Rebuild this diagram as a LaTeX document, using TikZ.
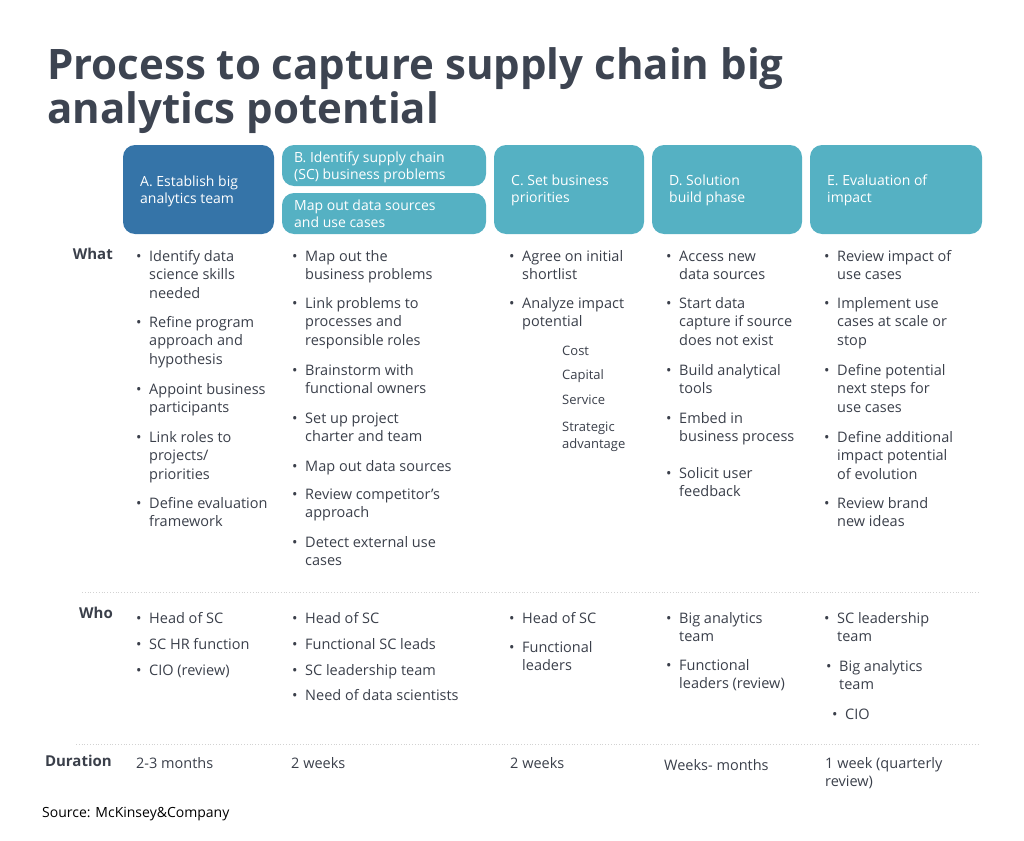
\documentclass[tikz,border=0pt]{standalone}
\usepackage{fontspec}
\setmainfont{Open Sans}
\definecolor{txt}{HTML}{3A3F4A}
\definecolor{ttl}{HTML}{3D4451}
\definecolor{dblue}{HTML}{3574A8}
\definecolor{teal}{HTML}{55B1C3}
\newcommand\bt[3]{\node[body] at (#1,#2-12) {\rule{0pt}{12pt}#3};}
\newcommand\bb[3]{\node[body] at (#1-13,#2-12) {\rule{0pt}{12pt}•}; \node[body] at (#1,#2-12) {\rule{0pt}{12pt}#3};}
\begin{document}
\begin{tikzpicture}[x=1pt,y=-1pt,
  body/.style={anchor=north west,inner sep=0pt,align=left,text=txt,font=\fontsize{14.5}{18.6}\selectfont},
  small/.style={anchor=north west,inner sep=0pt,align=left,text=txt,font=\fontsize{13}{17}\selectfont},
  lab/.style={anchor=base east,inner sep=0pt,text=txt,font=\fontsize{15}{18}\selectfont\bfseries},
  hdr/.style={anchor=north west,inner sep=0pt,align=left,text=white,font=\fontsize{14}{17.5}\selectfont},
  box/.style={rounded corners=12pt},
  sep/.style={draw=gray!35,dotted,line width=0.8pt}]
\useasboundingbox (0,0) rectangle (1024,840);
\node[anchor=base west,inner sep=0pt,text=ttl,font=\fontsize{42}{45}\selectfont\bfseries] (title) at (47,80) {Process to capture supply chain big};
\node[anchor=base west,inner sep=0pt,text=ttl,font=\fontsize{42}{45}\selectfont\bfseries] (title2) at (47,124) {analytics potential};
% header boxes
\fill[dblue,box] (123,145) rectangle (274,234);
\fill[teal,box] (282,145) rectangle (486,186);
\fill[teal,box] (282,193) rectangle (486,234);
\fill[teal,box] (494,145) rectangle (644,234);
\fill[teal,box] (652,145) rectangle (802,234);
\fill[teal,box] (810,145) rectangle (982,234);
\node[hdr] at (140,175) {\rule{0pt}{11pt}A. Establish big\\analytics team};
\node[hdr] at (294,151) {\rule{0pt}{11pt}B. Identify supply chain\\(SC) business problems};
\node[hdr] at (294,199) {\rule{0pt}{11pt}Map out data sources\\and use cases};
\node[hdr] at (511,174) {\rule{0pt}{11pt}C. Set business\\priorities};
\node[hdr] at (669,174) {\rule{0pt}{11pt}D. Solution\\build phase};
\node[hdr] at (827,174) {\rule{0pt}{11pt}E. Evaluation of\\impact};
% labels
\node[lab] at (113,259) {What};
\node[lab] at (113,618) {Who};
\node[lab] at (112,766) {Duration};
% separators
\draw[sep] (82,592) -- (980,592);
\draw[sep] (76,744) -- (980,744);
% What A
\bb{149}{261}{Identify data\\science skills\\needed}
\bb{149}{327}{Refine program\\approach and\\hypothesis}
\bb{149}{394}{Appoint business\\participants}
\bb{149}{442}{Link roles to\\projects/\\priorities}
\bb{149}{508}{Define evaluation\\framework}
% What B
\bb{305}{261}{Map out the\\business problems}
\bb{305}{308}{Link problems to\\processes and\\responsible roles}
\bb{305}{375}{Brainstorm with\\functional owners}
\bb{305}{423}{Set up  project\\charter and team}
\bb{305}{471}{Map out data sources}
\bb{305}{499}{Review competitor’s\\approach}
\bb{305}{547}{Detect external use\\cases}
% What C
\bb{522}{261}{Agree on initial\\shortlist}
\bb{522}{308}{Analyze impact\\potential}
\node[small] at (562,344) {\rule{0pt}{11pt}Cost};
\node[small] at (562,368) {\rule{0pt}{11pt}Capital};
\node[small] at (562,393) {\rule{0pt}{11pt}Service};
\node[small] at (562,420) {\rule{0pt}{11pt}Strategic\\advantage};
% What D
\bb{679}{261}{Access new\\data sources}
\bb{679}{308}{Start data\\capture if source\\does not exist}
\bb{679}{375}{Build analytical\\tools}
\bb{679}{423}{Embed in\\business process}
\bb{679}{478}{Solicit user\\feedback}
% What E
\bb{837}{261}{Review impact of\\use cases}
\bb{837}{308}{Implement use\\cases at scale or\\stop}
\bb{837}{375}{Define potential\\next steps for\\use cases}
\bb{837}{442}{Define additional\\impact potential\\of evolution}
\bb{837}{508}{Review brand\\new ideas}
% Who
\bb{149}{623}{Head of SC}
\bb{149}{649}{SC HR function}
\bb{149}{675}{CIO (review)}
\bb{305}{623}{Head of SC}
\bb{305}{649}{Functional SC leads}
\bb{305}{675}{SC leadership team}
\bb{305}{700}{Need of data scientists}
\bb{522}{623}{Head of SC}
\bb{522}{652}{Functional\\leaders}
\bb{679}{623}{Big analytics\\team}
\bb{679}{670}{Functional\\leaders (review)}
\bb{837}{623}{SC leadership\\team}
\bb{839}{671}{Big analytics\\team}
\bb{845}{719}{CIO}
% Duration
\bt{136}{768}{2-3 months}
\bt{291}{768}{2 weeks}
\bt{510}{768}{2 weeks}
\bt{664}{770}{Weeks- months}
\bt{825}{768}{1 week (quarterly\\review)}
\node[anchor=base west,inner sep=0pt,text=black,font=\fontsize{14}{16}\selectfont] (src) at (42,817) {Source: McKinsey\&Company};
\end{tikzpicture}
\end{document}
